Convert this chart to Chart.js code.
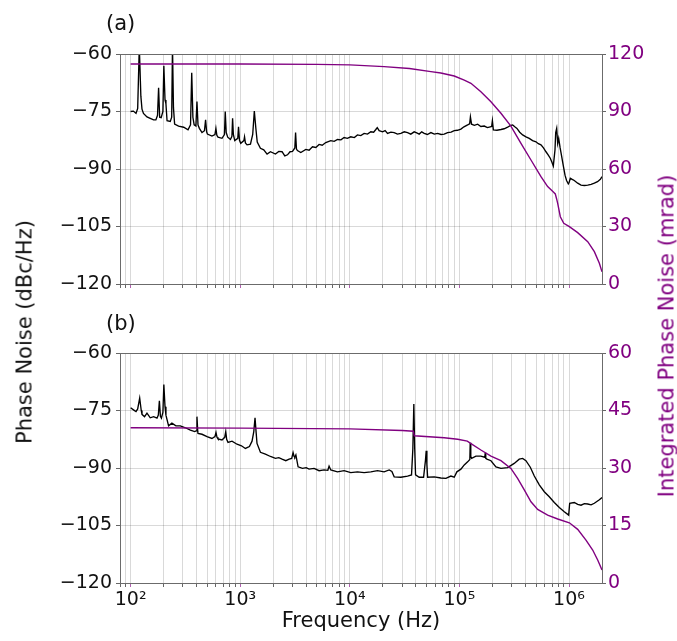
<!DOCTYPE html>
<html>
<head>
<meta charset="utf-8">
<script src="https://cdn.jsdelivr.net/npm/chart.js@4.4.1/dist/chart.umd.min.js"></script>
<style>
  body { margin: 0; background: #fff; }
  #wrap { position: relative; width: 677px; height: 641px; font-family: 'DejaVu Sans', sans-serif; color: #111; }
  canvas { position: absolute; left: 0; }
  #chartA { top: 0; }
  #chartB { top: 300px; }
  .lbl { position: absolute; font-size: 21px; line-height: 1; white-space: nowrap; }
  .ylab { transform: translate(-50%, -50%) rotate(-90deg); }
  .panel { transform: translateY(-50%); }
</style>
</head>
<body>
<div id="wrap">
  <canvas id="chartA" width="677" height="300"></canvas>
  <canvas id="chartB" width="677" height="341"></canvas>
  <div class="lbl panel" style="left:106px; top:23px;">(a)</div>
  <div class="lbl panel" style="left:106px; top:323px;">(b)</div>
  <div class="lbl ylab" style="left:25px; top:332px;">Phase Noise (dBc/Hz)</div>
  <div class="lbl ylab" style="left:667px; top:336px; color:#800080;">Integrated Phase Noise (mrad)</div>
</div>
<script>
// ---- panel (a) ----
const freqA = [
  100, 106, 112, 116, 120, 124, 127, 131, 141, 151,
  162, 170, 176, 180, 184, 190, 197, 201, 206, 210,
  215, 230, 237, 241, 246, 252, 274, 305, 334, 352,
  361, 370, 380, 394, 403, 412, 424, 448, 472, 483,
  494, 502, 552, 588, 600, 612, 627, 682, 718, 730,
  745, 769, 814, 840, 852, 866, 891, 950, 965, 985,
  1011, 1080, 1095, 1115, 1154, 1240, 1300, 1345, 1390, 1430,
  1529, 1640, 1758, 1888, 2096, 2250, 2409, 2550, 2699, 2850,
  3000, 3150, 3200, 3260, 3328, 3570, 3966, 4250, 4563, 4900,
  5245, 5600, 6035, 6703, 7200, 7720, 8300, 8870, 9500, 10200,
  11000, 11740, 12600, 13510, 14500, 15550, 16500, 17270, 17800, 18520,
  19900, 21000, 22090, 23700, 25400, 27200, 29240, 31400, 33650, 36000,
  38660, 40800, 42950, 45300, 47720, 51000, 54950, 59000, 63240, 68000,
  72650, 78000, 84000, 89700, 96000, 103200, 110000, 118900, 124000, 126000,
  129000, 137000, 146600, 157000, 168600, 180000, 191100, 197000, 200000, 204000,
  220000, 239300, 256000, 275500, 290000, 306000, 320000, 335000, 355000, 377600,
  405000, 433700, 465000, 499700, 525000, 554800, 585000, 616500, 645000, 674700,
  700000, 719000, 745000, 756000, 772000, 788400, 805000, 830000, 857800, 890000,
  919600, 950000, 985600, 1000000, 1028000, 1070000, 1117000, 1200000, 1287000, 1380000,
  1482000, 1590000, 1703000, 1820000, 1932000, 2000000
];
const noiseA = [
  -75.0, -74.9, -75.5, -74.2, -58, -71, -74.4, -75.5, -76.4, -76.8,
  -77.2, -77.2, -76.0, -68.8, -76.5, -76.6, -75.0, -63.1, -72.0, -73.0,
  -77.4, -77.6, -76.5, -58, -74, -78.3, -78.8, -79.1, -79.8, -78.5,
  -64.9, -76.5, -78.5, -78.8, -72.4, -78.5, -79.4, -80.5, -80.0, -77.2,
  -80.3, -80.9, -81.4, -81.0, -79.4, -81.2, -81.7, -82.0, -81.0, -75.0,
  -80.5, -81.7, -82.3, -81.5, -76.8, -81.0, -82.6, -82.0, -79.0, -82.5,
  -83.3, -82.6, -81.6, -83.2, -83.7, -83.5, -81.0, -74.9, -79.5, -83.0,
  -84.6, -85.0, -86.1, -85.5, -86.1, -85.4, -85.5, -86.6, -86.3, -85.5,
  -85.4, -84.5, -80.5, -84.8, -85.2, -85.7, -84.9, -85.1, -84.2, -84.4,
  -83.6, -83.8, -83.1, -82.6, -82.8, -82.3, -82.4, -81.8, -82.0, -81.6,
  -81.8, -81.1, -81.3, -80.7, -80.9, -80.3, -80.4, -79.7, -79.2, -80.0,
  -80.3, -80.0, -80.7, -80.4, -80.5, -80.9, -80.7, -80.3, -80.5, -80.9,
  -80.3, -80.6, -80.9, -80.3, -80.7, -81.0, -80.5, -80.9, -80.7, -81.0,
  -80.9, -80.5, -80.4, -80.0, -79.9, -79.6, -79.0, -78.5, -78.2, -76.4,
  -78.3, -78.6, -78.3, -78.9, -78.8, -79.2, -79.0, -78.9, -77.4, -79.8,
  -79.9, -79.7, -79.5, -79.1, -78.7, -78.5, -79.0, -79.4, -80.4, -81.1,
  -81.6, -82.0, -82.6, -82.9, -83.4, -83.7, -84.5, -85.5, -86.3, -87.2,
  -88.3, -89.2, -85.0, -80.5, -79.4, -83.3, -82.0, -84.5, -86.8, -89.4,
  -91.6, -93.0, -93.9, -93.6, -92.4, -92.7, -93.0, -93.7, -94.2, -94.3,
  -94.2, -94.0, -93.7, -93.3, -92.7, -92.0
];
const freqIntA = [
  100, 1000, 5000, 10000, 20560, 35000, 54950, 67700, 89700, 110700,
  127400, 157000, 194000, 239300, 295000, 364500, 449700, 554800, 638300, 720000,
  749500, 770000, 788400, 833200, 895700, 1007000, 1200000, 1482000, 1703000, 1892000,
  2000000
];
const intA = [
  114.8, 114.8, 114.6, 114.3, 113.4, 112.4, 110.8, 110.1, 108.5, 106.4,
  104.7, 100.3, 95.1, 89.1, 82.4, 73.4, 64.7, 56.0, 50.8, 48.0,
  47.0, 44.5, 42.1, 35.1, 31.7, 29.9, 26.8, 22.1, 16.9, 10.8,
  6.4
];

// ---- panel (b) ----
const freqB = [
  100, 107, 112, 116, 121, 125, 127, 134, 141, 151,
  162, 174, 179, 183, 187, 191, 197, 201, 206, 210,
  222, 238, 259, 284, 316, 351, 384, 396, 403, 410,
  412, 448, 498, 552, 588, 601, 614, 627, 682, 722,
  738, 752, 774, 842, 935, 1026, 1115, 1213, 1282, 1330,
  1365, 1395, 1423, 1529, 1697, 1888, 2096, 2250, 2409, 2605,
  2795, 2950, 3036, 3100, 3145, 3220, 3373, 3700, 4000, 4250,
  4720, 5245, 5822, 6300, 6470, 6703, 7720, 8870, 10200, 11740,
  13510, 15550, 17900, 20560, 22850, 24200, 25400, 29240, 33650, 36570,
  37600, 38380, 39100, 39800, 42950, 47100, 49000, 49770, 50500, 51270,
  58940, 67700, 75300, 83600, 89700, 94800, 103200, 110700, 118900, 124500,
  125500, 127000, 129300, 141500, 157000, 170500, 172200, 174000, 178300, 194000,
  215400, 239300, 275500, 316200, 351600, 377600, 404400, 443500, 482300, 535600,
  594900, 660600, 734200, 815300, 905700, 993300, 1014000, 1117000, 1200000, 1287000,
  1380000, 1482000, 1590000, 1703000, 1892000, 2000000
];
const noiseB = [
  -74.3, -74.9, -75.3, -74.6, -71.8, -75.0, -76.0, -76.6, -75.7, -76.9,
  -76.6, -77.0, -76.2, -72.5, -76.5, -77.0, -75.5, -68.2, -74.0, -76.2,
  -79.0, -78.3, -79.0, -79.0, -79.5, -80.1, -80.5, -80.3, -76.6, -80.6,
  -81.0, -81.2, -81.8, -82.3, -81.8, -80.7, -82.0, -82.4, -82.7, -82.0,
  -80.5, -82.5, -83.3, -83.0, -83.8, -84.2, -84.9, -84.4, -83.0, -80.5,
  -76.9, -80.5, -83.6, -85.9, -86.4, -87.0, -87.5, -87.3, -87.7, -88.1,
  -87.7, -87.5, -86.0, -87.0, -87.2, -86.6, -89.7, -90.1, -89.9, -90.3,
  -90.1, -90.7, -90.5, -90.6, -89.5, -90.5, -91.0, -90.7, -91.2, -91.0,
  -91.2, -91.0, -90.7, -91.0, -90.5, -90.9, -92.3, -92.4, -92.1, -91.8,
  -85.0, -73.3, -85.0, -91.8, -92.4, -92.4, -88.0, -85.5, -89.0, -92.4,
  -92.3, -92.6, -92.7, -92.1, -92.4, -91.0, -90.3, -89.2, -88.4, -87.8,
  -83.4, -87.0, -87.5, -86.9, -86.9, -87.2, -86.0, -87.5, -87.7, -88.1,
  -89.7, -90.1, -89.9, -88.8, -87.7, -87.5, -88.1, -89.8, -92.1, -94.4,
  -96.2, -97.5, -99.0, -100.3, -101.4, -102.3, -99.2, -99.0, -99.5, -99.7,
  -99.3, -99.4, -99.6, -99.2, -98.3, -97.7
];
const freqIntB = [
  100, 1000, 10000, 30000, 38000, 38700, 72650, 96400, 118000, 125500,
  157000, 194000, 239300, 295000, 339600, 390800, 449700, 517600, 638300, 788400,
  1007000, 1200000, 1428000, 1645000, 1827000, 2000000
];
const intB = [
  40.5, 40.4, 40.2, 39.8, 39.6, 38.4, 37.9, 37.5, 37.0, 36.5,
  34.7, 33.1, 31.9, 29.9, 27.3, 24.3, 21.2, 19.2, 17.7, 16.7,
  15.7, 14.0, 11.2, 8.6, 6.0, 3.4
];

// ---- ticks ----
const xTickValues = [80, 90];
[100, 1000, 10000, 100000, 1000000].forEach(d => {
  for (let m = 1; m <= 9; m++) {
    if (d * m < 2e6) xTickValues.push(d * m);
  }
});
const decadeLabels = { 100: '10²', 1000: '10³', 10000: '10⁴', 100000: '10⁵', 1000000: '10⁶' };
const leftTicks = [-120, -105, -90, -75, -60];
const rightTicksA = [0, 30, 60, 90, 120];
const rightTicksB = [0, 15, 30, 45, 60];

Chart.defaults.font.family = "'DejaVu Sans', sans-serif";

const purple = '#800080';
const gridColor = 'rgba(0,0,0,0.15)';
const frameColor = '#6b6b6b';

function zip(xs, ys) {
  return xs.map((x, i) => ({ x: x, y: ys[i] }));
}

// top spine, chart.js has no box border
const frameTop = {
  id: 'frameTop',
  afterDraw(chart) {
    const { ctx, chartArea } = chart;
    ctx.save();
    ctx.strokeStyle = frameColor;
    ctx.lineWidth = 1;
    ctx.beginPath();
    ctx.moveTo(chartArea.left, chartArea.top + 0.5);
    ctx.lineTo(chartArea.right, chartArea.top + 0.5);
    ctx.stroke();
    ctx.restore();
  }
};

function makePanel(canvasId, cfg) {
  return new Chart(document.getElementById(canvasId), {
    type: 'line',
    data: {
      datasets: [
        {
          label: 'Integrated Phase Noise',
          data: zip(cfg.freqInt, cfg.integrated),
          yAxisID: 'y2',
          borderColor: purple,
          borderWidth: 1.4,
          pointRadius: 0
        },
        {
          label: 'Phase Noise',
          data: zip(cfg.freq, cfg.noise),
          yAxisID: 'y',
          borderColor: '#000',
          borderWidth: 1.35,
          pointRadius: 0
        }
      ]
    },
    options: {
      responsive: false,
      animation: false,
      layout: { padding: { top: cfg.padTop, left: 0, right: 0, bottom: 0 } },
      plugins: {
        legend: { display: false },
        tooltip: { enabled: false }
      },
      scales: {
        x: {
          type: 'logarithmic',
          min: 80,
          max: 2e6,
          bounds: 'data',
          afterBuildTicks: s => { s.ticks = xTickValues.map(v => ({ value: v })); },
          afterFit: s => { s.height = cfg.xHeight; },
          grid: {
            color: gridColor,
            tickLength: 4,
            tickColor: c => (c.tick && decadeLabels[c.tick.value]) ? '#b060b0' : '#666'
          },
          border: { color: frameColor },
          ticks: {
            display: cfg.showX,
            autoSkip: false,
            maxRotation: 0,
            padding: 2,
            color: '#111',
            font: { size: 19 },
            callback: v => decadeLabels[v] || ''
          },
          title: {
            display: cfg.showX,
            text: 'Frequency (Hz)',
            color: '#111',
            font: { size: 21 },
            padding: { top: 0, bottom: 7 }
          }
        },
        y: {
          type: 'linear',
          position: 'left',
          min: -120,
          max: -60,
          afterBuildTicks: s => { s.ticks = leftTicks.map(v => ({ value: v })); },
          afterFit: s => { s.width = 120; },
          grid: { color: gridColor, tickLength: 4, tickColor: '#666' },
          border: { color: frameColor },
          ticks: {
            color: '#111',
            padding: 4,
            font: { size: 19 },
            callback: v => v < 0 ? '\u2212' + Math.abs(v) : String(v)
          }
        },
        y2: {
          type: 'linear',
          position: 'right',
          min: 0,
          max: cfg.rightTicks[cfg.rightTicks.length - 1],
          afterBuildTicks: s => { s.ticks = cfg.rightTicks.map(v => ({ value: v })); },
          afterFit: s => { s.width = 75; },
          grid: { drawOnChartArea: false, tickLength: 4, tickColor: '#666' },
          border: { color: frameColor },
          ticks: { color: purple, padding: 2, font: { size: 19 } }
        }
      }
    },
    plugins: [frameTop]
  });
}

makePanel('chartA', {
  freq: freqA, noise: noiseA, freqInt: freqIntA, integrated: intA,
  rightTicks: rightTicksA, padTop: 54, xHeight: 16, showX: false
});

makePanel('chartB', {
  freq: freqB, noise: noiseB, freqInt: freqIntB, integrated: intB,
  rightTicks: rightTicksB, padTop: 53, xHeight: 58, showX: true
});
</script>
</body>
</html>
